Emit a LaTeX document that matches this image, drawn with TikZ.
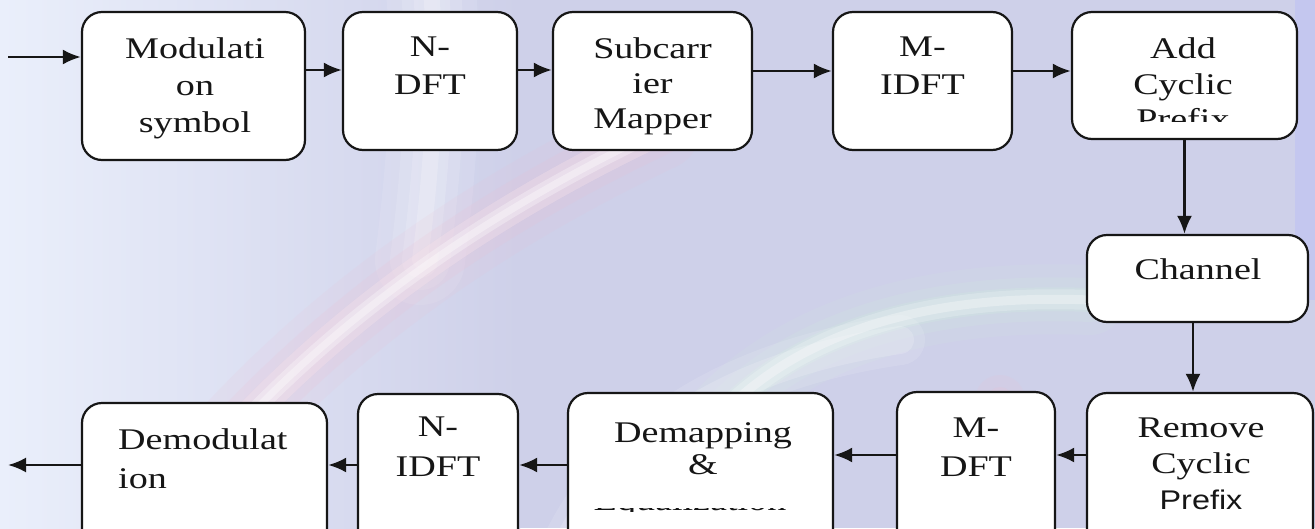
\documentclass[tikz,border=0pt]{standalone}
\usepackage{fontspec}
\setmainfont{Liberation Serif}[FakeStretch=1.27]
\newfontfamily\sansstretch{Liberation Sans}[FakeStretch=1.2]
\usetikzlibrary{arrows.meta,calc}
\definecolor{bgbase}{RGB}{206,208,233}
\definecolor{bgleft}{RGB}{234,239,251}
\definecolor{bgpink}{RGB}{238,190,210}
\definecolor{bgmint}{RGB}{206,240,222}
\definecolor{bgblue}{RGB}{188,192,246}
\definecolor{inkc}{RGB}{22,22,22}
\begin{document}
\begin{tikzpicture}[x=1pt,y=-1pt,
  box/.style={draw=inkc, line width=2.2pt, fill=white, rounded corners=20pt, inner sep=0pt},
  txt/.style={font=\fontsize{30}{37}\selectfont, align=center, inner sep=0pt, anchor=north, text=inkc},
  conn/.style={line width=2.6pt, draw=inkc, -{Latex[length=18pt,width=15pt]}},
  glow/.style={line cap=round, draw=#1}]
\useasboundingbox (0,0) rectangle (1315,528);
\clip (0,0) rectangle (1315,528);
% ---------- background ----------
\fill[bgbase] (0,0) rectangle (1315,528);
\shade[left color=bgleft, right color=bgbase] (0,0) rectangle (520,528);
\fill[bgblue, opacity=0.5] (1295,0) rectangle (1315,300);
\foreach \w/\o in {90/0.10,60/0.12,36/0.15,16/0.2}{
  \draw[glow=white, line width=\w pt, opacity=\o] (430,-20) .. controls (440,80) and (430,180) .. (420,260);
}
\foreach \w/\o in {80/0.12,50/0.16,30/0.2}{
  \draw[glow=bgpink, line width=\w pt, opacity=\o] (200,470) .. controls (320,330) and (470,220) .. (660,130);
}
\foreach \w/\o in {30/0.2,16/0.3,7/0.35}{
  \draw[glow=white, line width=\w pt, opacity=\o] (200,470) .. controls (320,330) and (470,220) .. (660,130);
}
\foreach \w/\o in {70/0.10,44/0.14,24/0.2}{
  \draw[glow=bgmint, line width=\w pt, opacity=\o] (640,560) .. controls (690,380) and (850,290) .. (1090,300);
}
\foreach \w/\o in {20/0.2,9/0.3}{
  \draw[glow=white, line width=\w pt, opacity=\o] (640,560) .. controls (690,380) and (850,290) .. (1090,300);
}
\foreach \w/\o in {50/0.12,28/0.16}{
  \draw[glow=white, line width=\w pt, opacity=\o] (560,560) .. controls (620,420) and (760,360) .. (900,340);
}
\foreach \w/\o in {50/0.15,26/0.2}{
  \draw[glow=bgpink, line width=\w pt, opacity=\o] (1000,400) -- (1000,560);
}
% ---------- boxes ----------
\node[box, minimum width=223pt, minimum height=148pt] (mod)   at (193.5,86)  {};
\node[box, minimum width=174pt, minimum height=138pt] (ndft)  at (430,81)    {};
\node[box, minimum width=199pt, minimum height=138pt] (sub)   at (652.5,81)  {};
\node[box, minimum width=179pt, minimum height=138pt] (midft) at (922.5,81)  {};
\node[box, minimum width=225pt, minimum height=127pt] (addcp) at (1184.5,75.5) {};
\node[box, minimum width=221pt, minimum height=87pt]  (chan)  at (1197.5,278.5) {};
\node[box, minimum width=226pt, minimum height=167pt] (rcp)   at (1200,476.5) {};
\node[box, minimum width=158pt, minimum height=168pt] (mdft)  at (976,476)   {};
\node[box, minimum width=265pt, minimum height=167pt] (demap) at (700.5,476.5) {};
\node[box, minimum width=160pt, minimum height=166pt] (nidft) at (438,477)   {};
\node[box, minimum width=245pt, minimum height=157pt] (demod) at (204.5,481.5) {};
% ---------- texts ----------
\node[txt] (mod-t)   at (195,37)    {Modulati\\on\\symbol};
\node[txt, font=\fontsize{30}{38}\selectfont] (ndft-t)  at (430,37) {N-\\DFT};
\node[txt, font=\fontsize{30}{35}\selectfont] (sub-t)   at (652.5,37) {Subcarr\\ier\\Mapper};
\node[txt, font=\fontsize{30}{38}\selectfont] (midft-t) at (922.5,37) {M-\\IDFT};
\node[txt, font=\fontsize{30}{36}\selectfont] (addcp-t) at (1183,37) {Add\\Cyclic};
\begin{scope}
  \clip (1080,100) rectangle (1290,121);
  \node[txt, anchor=base] (addcp-p) at (1183,129) {Prefix};
\end{scope}
\node[txt] (chan-t)  at (1198,258) {Channel};
\node[txt, font=\fontsize{30}{36}\selectfont] (rcp-t) at (1201,418) {Remove\\Cyclic\\{\sansstretch\fontsize{27}{36}\selectfont Prefix}};
\node[txt, font=\fontsize{30}{39}\selectfont] (mdft-t) at (976,418) {M-\\DFT};
\node[txt, font=\fontsize{30}{32}\selectfont] (demap-t) at (703,422) {Demapping\\\&};
\begin{scope}
  \clip (580,508) rectangle (820,511);
  \node[txt, anchor=base] (demap-e) at (690,510.5) {Equalization};
\end{scope}
\node[txt, font=\fontsize{30}{40}\selectfont] (nidft-t) at (438,417) {N-\\IDFT};
\node[txt, align=left, anchor=north west, font=\fontsize{30}{39}\selectfont] (demod-t) at (118,428) {Demodulat\\ion};
% ---------- connectors ----------
\coordinate (inp) at (8,57);
\coordinate (outp) at (8,465);
\coordinate (r1) at (0,70);
\coordinate (r2) at (0,71);
\coordinate (v2) at (1193,0);
\coordinate (b1) at (0,455);
\coordinate (b2) at (0,465);
\draw[conn] (inp) -- (inp -| mod.west);
\draw[conn] (mod.east |- r1) -- (ndft.west |- r1);
\draw[conn] (ndft.east |- r1) -- (sub.west |- r1);
\draw[conn] (sub.east |- r2) -- (midft.west |- r2);
\draw[conn] (midft.east |- r2) -- (addcp.west |- r2);
\draw[conn] (addcp.south) -- (addcp.south |- chan.north);
\draw[conn] (v2 |- chan.south) -- (v2 |- rcp.north);
\draw[conn] (rcp.west |- b1) -- (mdft.east |- b1);
\draw[conn] (mdft.west |- b1) -- (demap.east |- b1);
\draw[conn] (demap.west |- b2) -- (nidft.east |- b2);
\draw[conn] (nidft.west |- b2) -- (demod.east |- b2);
\draw[conn] (demod.west |- outp) -- (outp);
\end{tikzpicture}
\end{document}
